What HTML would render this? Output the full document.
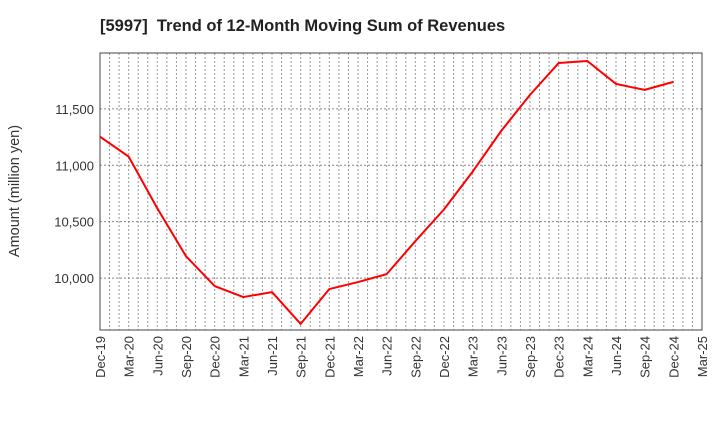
<!DOCTYPE html>
<html><head><meta charset="utf-8"><style>
body{margin:0;background:#fff;width:720px;height:440px;overflow:hidden}
text{font-family:"Liberation Sans",Arial,sans-serif}
</style></head><body>
<svg id="chart" width="720" height="440" xmlns="http://www.w3.org/2000/svg">
<text x="100" y="31" font-size="16.5" font-weight="bold" fill="#222" xml:space="preserve">[5997]  Trend of 12-Month Moving Sum of Revenues</text>
<text transform="translate(19,191) rotate(-90)" text-anchor="middle" font-size="14.5" fill="#333">Amount (million yen)</text>
<g id="grid"></g><g id="axes"></g><g id="series"></g>
</svg>
<script>
const categories=["Dec-19","Mar-20","Jun-20","Sep-20","Dec-20","Mar-21","Jun-21","Sep-21","Dec-21","Mar-22","Jun-22","Sep-22","Dec-22","Mar-23","Jun-23","Sep-23","Dec-23","Mar-24","Jun-24","Sep-24","Dec-24","Mar-25"];
const revenues=[11253,11077,10618,10194,9929,9832,9876,9594,9903,9965,10035,10327,10609,10944,11306,11624,11906,11924,11721,11668,11739];
const yTicks=[10000,10500,11000,11500];
const yTickLabels=["10,000","10,500","11,000","11,500"];
const NS="http://www.w3.org/2000/svg";
const L=100,R=702,T=53,B=330,yMin=9540,yMax=11995;
const xs=i=>L+(R-L)*i/(categories.length-1);
const ys=v=>B-(v-yMin)/(yMax-yMin)*(B-T);
function mk(tag,attrs,parent){const e=document.createElementNS(NS,tag);for(const k in attrs)e.setAttribute(k,attrs[k]);parent.appendChild(e);return e;}
const grid=document.getElementById('grid'),axes=document.getElementById('axes'),series=document.getElementById('series');
const nMonths=(categories.length-1)*3;
for(let m=1;m<nMonths;m++){const x=L+(R-L)*m/nMonths;
const g=mk('line',{x1:x,x2:x,y1:T,y2:B,stroke:'#999','stroke-dasharray':'2,2','stroke-width':1},grid);

}
yTicks.forEach((v,i)=>{const y=ys(v);
const g=mk('line',{x1:L,x2:R,y1:y,y2:y,stroke:'#888','stroke-dasharray':'2,2','stroke-width':1},grid);


const t=mk('text',{x:L-6,y:y+5,'text-anchor':'end','font-size':13,fill:'#333'},axes);t.textContent=yTickLabels[i];

});
const fr=mk('rect',{x:L,y:T,width:R-L,height:B-T,fill:'none',stroke:'#444','stroke-width':1},axes);


categories.forEach((c,i)=>{const x=xs(i);
const t=mk('text',{transform:`translate(${x+5},${B+6}) rotate(-90)`,'text-anchor':'end','font-size':13,fill:'#333'},axes);t.textContent=c;

});
const pl=mk('polyline',{points:revenues.map((v,i)=>xs(i)+','+ys(v)).join(' '),fill:'none',stroke:'#ff0000','stroke-width':2,'stroke-linejoin':'round'},series);


</script>
</body></html>
